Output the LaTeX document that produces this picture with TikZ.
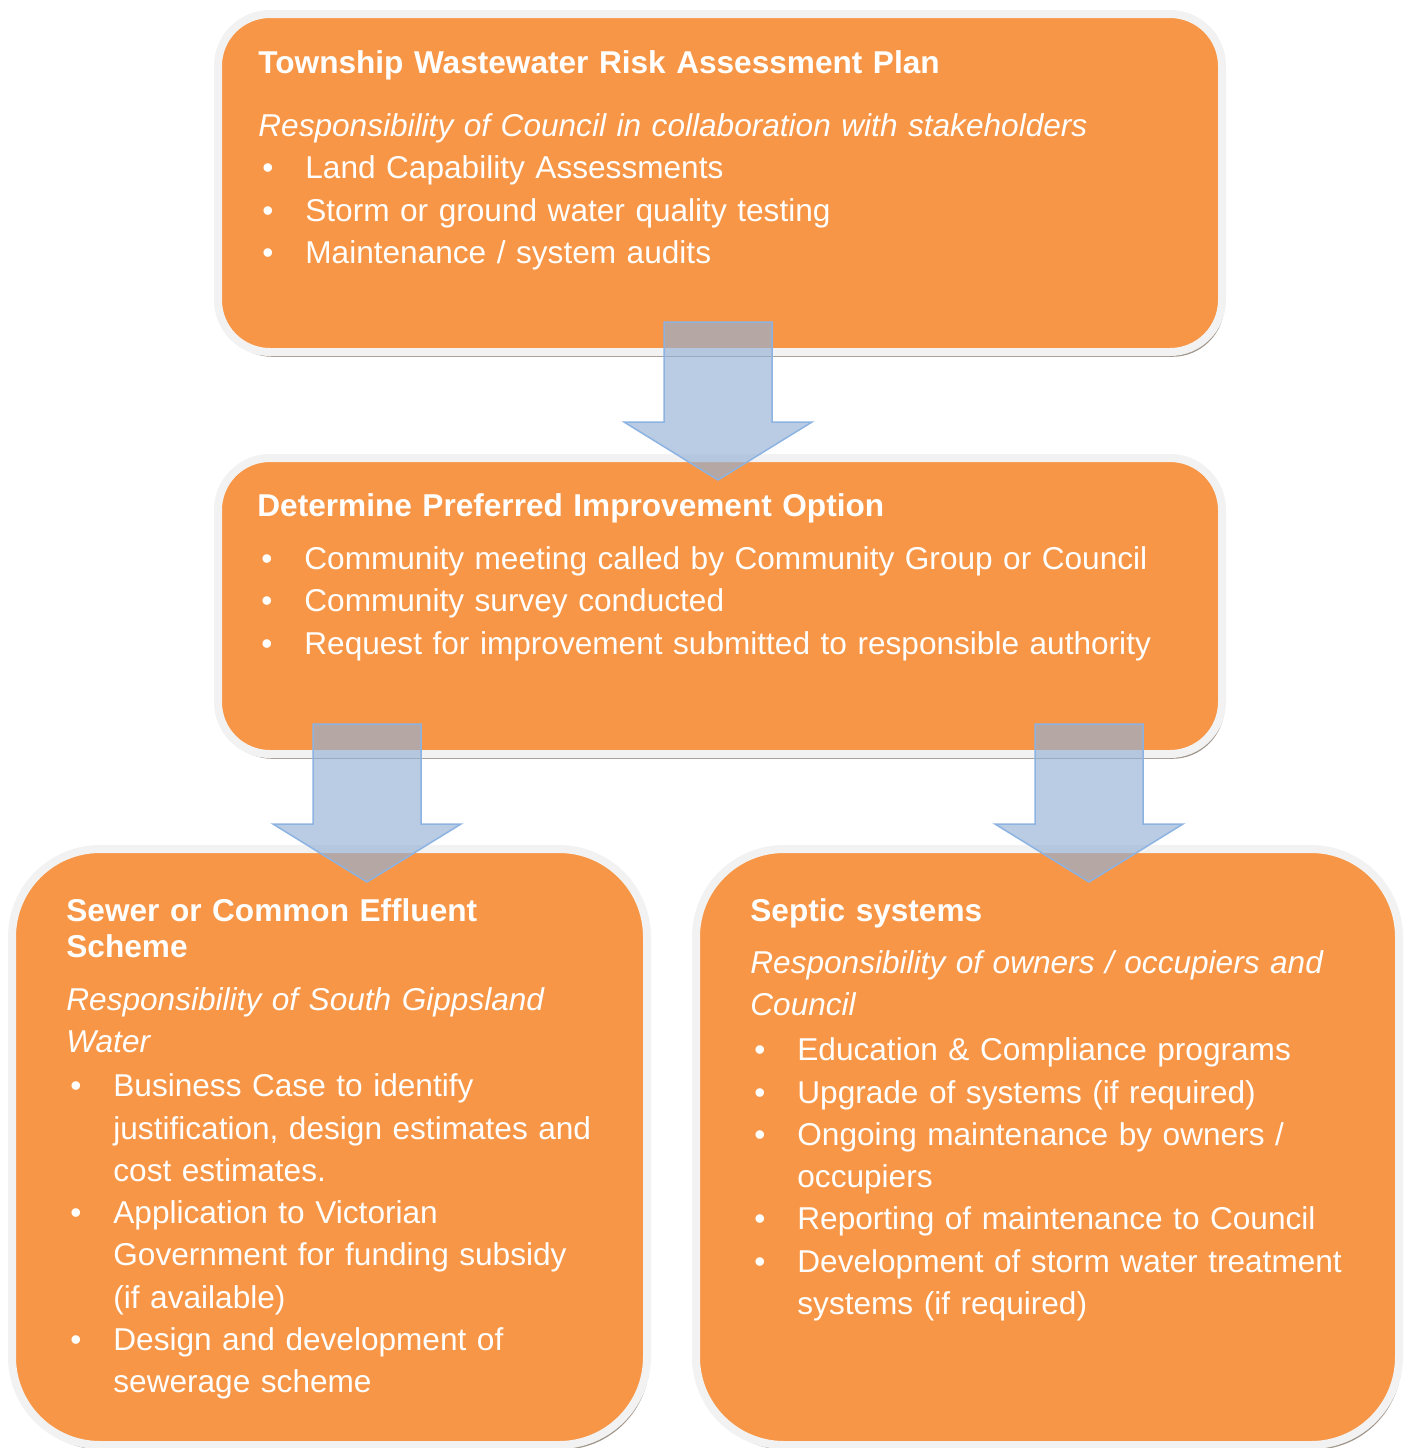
\documentclass[tikz,border=0pt]{standalone}
\usepackage{fontspec}
\setmainfont{Liberation Sans}
\usetikzlibrary{calc, shadows}

\definecolor{boxorange}{HTML}{F79646}
\definecolor{boxrim}{HTML}{F2F2F2}
\definecolor{arrowblue}{HTML}{93B1D5}
\definecolor{arrowline}{HTML}{8DB3E2}

% bullet line with hanging indent
\newcommand{\bitem}[1]{\par\hangindent=23.5pt\hangafter=1\noindent\makebox[23.5pt][l]{\hspace{2pt}\textbullet}#1\par}

\begin{document}
\begin{tikzpicture}[x=0.5pt, y=-0.5pt,
  stagebox/.style={rectangle, rounded corners=26pt, fill=boxorange, draw=boxrim,
                   line width=4pt, outer sep=0pt, inner sep=0pt,
                   drop shadow={shadow xshift=1.2pt, shadow yshift=-2.4pt, opacity=0.5, fill=black!65!brown}},
  boxtext/.style={anchor=north west, inner sep=0pt, text=white, align=left,
                  font=\fontsize{15.8}{21.15}\selectfont},
  blockarr/.style={fill=arrowblue, fill opacity=0.65, draw=arrowline, line width=0.75pt},
  downarrow/.pic={\draw[blockarr] (-54,0) -- (54,0) -- (54,100) -- (94,100) -- (0,158)
                  -- (-94,100) -- (-54,100) -- cycle;},
]
  \useasboundingbox (0,0) rectangle (1408,1448);

  % the four stages
  \node[stagebox, minimum width=502pt, minimum height=169pt] (top) at (720,183) {};
  \node[stagebox, minimum width=502pt, minimum height=148pt] (mid) at (720,606) {};
  \node[stagebox, rounded corners=44pt, minimum width=317.5pt, minimum height=298pt] (sewer) at (329.5,1147) {};
  \node[stagebox, rounded corners=44pt, minimum width=351.5pt, minimum height=298pt] (septic) at (1047.5,1147) {};

  \node[boxtext, text width=450pt] (topText) at (258,49) {\rule{0pt}{12pt}\textbf{Township Wastewater Risk Assessment Plan}\par\vspace{10.35pt}
    \textit{Responsibility of Council in collaboration with stakeholders}
    \bitem{Land Capability Assessments}
    \bitem{Storm or ground water quality testing}
    \bitem{Maintenance / system audits}};

  \node[boxtext, text width=460pt] (midText) at (257,492) {\rule{0pt}{12pt}\textbf{Determine Preferred Improvement Option}\par\vspace{5.35pt}
    \bitem{Community meeting called by Community Group or Council}
    \bitem{Community survey conducted}
    \bitem{Request for improvement submitted to responsible authority}};

  \node[boxtext, text width=280pt] (sewerText) at (66,897) {{\fontsize{15.8}{18}\selectfont\rule{0pt}{12pt}\textbf{Sewer or Common Effluent}\newline\textbf{Scheme}\par}\vspace{5.35pt}
    \textit{Responsibility of South Gippsland}\newline\textit{Water}\par\vspace{0.85pt}
    \bitem{Business Case to identify\newline justification, design estimates and\newline cost estimates.}
    \bitem{Application to Victorian\newline Government for funding subsidy\newline (if available)}
    \bitem{Design and development of\newline sewerage scheme}};

  \node[boxtext, text width=310pt] (septicText) at (750,897) {\rule{0pt}{12pt}\textbf{Septic systems}\par\vspace{4.85pt}
    \textit{Responsibility of owners / occupiers and}\newline\textit{Council}\par\vspace{1.35pt}
    \bitem{Education \& Compliance programs}
    \bitem{Upgrade of systems (if required)}
    \bitem{Ongoing maintenance by owners /\newline occupiers}
    \bitem{Reporting of maintenance to Council}
    \bitem{Development of storm water treatment\newline systems (if required)}};

  % block arrows between stages
  \pic at ($(top.south)+(-2,-30)$) {downarrow};
  \pic at ($(mid.south)+(-353,-30)$) {downarrow};
  \pic at ($(mid.south)+(369,-30)$) {downarrow};
\end{tikzpicture}
\end{document}
